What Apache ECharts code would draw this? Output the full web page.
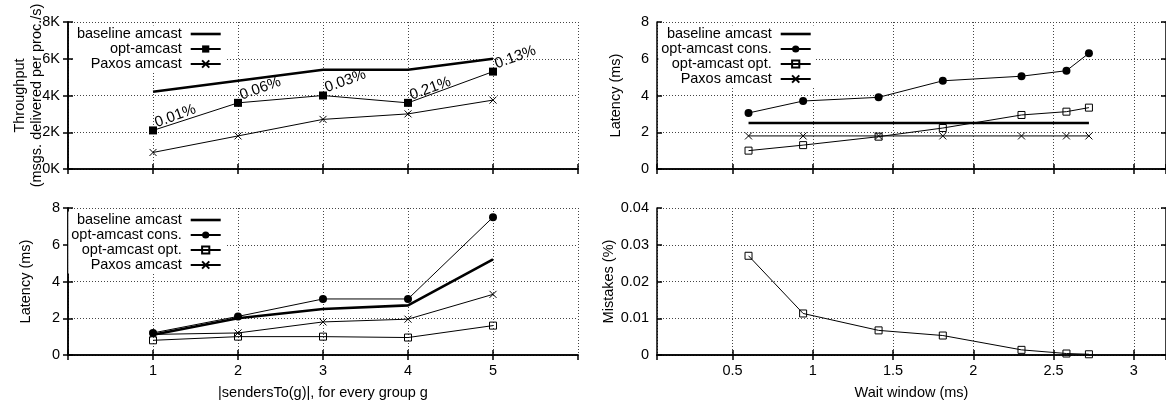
<!DOCTYPE html>
<html>
<head>
<meta charset="utf-8">
<script src="https://cdn.jsdelivr.net/npm/echarts@6/dist/echarts.min.js"></script>
<style>
  html, body { margin: 0; padding: 0; background: #fff; }
  #chart { width: 1166px; height: 407px; }
</style>
</head>
<body>
<div id="chart"></div>
<script>
// left column: |sendersTo(g)|
const senders = [1, 2, 3, 4, 5];
const tputBaseline = [4200, 4800, 5400, 5400, 6000];
const tputOpt = [2100, 3600, 4000, 3600, 5300];
const tputPaxos = [900, 1800, 2700, 3000, 3750];
const mistakeLabels = ['0.01%', '0.06%', '0.03%', '0.21%', '0.13%'];

const latBaseline = [1.1, 2.0, 2.5, 2.7, 5.2];
const latCons = [1.2, 2.1, 3.05, 3.05, 7.5];
const latOpt = [0.8, 1.0, 1.0, 0.95, 1.6];
const latPaxos = [1.12, 1.2, 1.8, 1.95, 3.3];

// right column: wait window (ms)
const waitWindow = [0.6, 0.94, 1.41, 1.81, 2.3, 2.58, 2.72];
const waitBaseline = [2.5, 2.5, 2.5, 2.5, 2.5, 2.5, 2.5];
const waitCons = [3.05, 3.7, 3.9, 4.8, 5.05, 5.35, 6.3];
const waitOpt = [1.0, 1.3, 1.76, 2.23, 2.94, 3.12, 3.34];
const waitPaxos = [1.8, 1.8, 1.8, 1.8, 1.8, 1.8, 1.8];
const waitMistakes = [0.027, 0.0113, 0.0067, 0.0053, 0.0014, 0.0004, 0.0002];

const FONT = 'Liberation Sans';
const FS = 14.5;
const chart = echarts.init(document.getElementById('chart'));

const grids = [
  { left: 68, top: 22, width: 510, height: 147 },
  { left: 657, top: 22, width: 516, height: 147 },
  { left: 68, top: 208, width: 510, height: 147 },
  { left: 657, top: 208, width: 516, height: 147 },
];

const sendersScale = { min: 0, max: 6, interval: 1 };
const waitScale = { min: 0.03, max: 3.2, splitNumber: 6 };

const textStyle = { fontFamily: FONT, fontSize: FS, color: '#000' };
const border = { lineStyle: { color: '#000', width: 1.5 } };
const ticks = { inside: true, length: 5, lineStyle: { color: '#000', width: 1.5 } };
const dotted = { show: true, lineStyle: { color: '#444', type: [1, 2], width: 1 } };

function xPair(gridIndex, scale, showLabels, name) {
  const bottom = {
    type: 'value', gridIndex, position: 'bottom', ...scale,
    name, nameLocation: 'middle', nameGap: 30, nameMoveOverlap: false, nameTextStyle: textStyle,
    axisLine: border, axisTick: ticks, splitLine: dotted,
    axisLabel: {
      show: showLabels, margin: 8, ...textStyle,
      showMinLabel: scale.min !== 0.03, showMaxLabel: false,
      formatter: (v) => (v === 0 || v === 6 ? '' : String(v)),
    },
  };
  const top = {
    type: 'value', gridIndex, position: 'top', ...scale,
    axisLine: border, axisTick: ticks, axisLabel: { show: false }, splitLine: { show: false },
  };
  return [bottom, top];
}

function yPair(gridIndex, scale, name, nameGap, formatter) {
  const left = {
    type: 'value', gridIndex, position: 'left', ...scale,
    name, nameLocation: 'middle', nameGap, nameRotate: 90, nameMoveOverlap: false,
    nameTextStyle: { ...textStyle, lineHeight: 17 },
    axisLine: border, axisTick: ticks, splitLine: dotted,
    axisLabel: { margin: 8, ...textStyle, formatter },
  };
  const right = {
    type: 'value', gridIndex, position: 'right', ...scale,
    axisLine: border, axisTick: ticks, axisLabel: { show: false }, splitLine: { show: false },
  };
  return [left, right];
}

const styles = {
  baseline: {
    symbol: 'none',
    itemStyle: { color: 'rgba(0,0,0,0)', borderWidth: 0 },
    lineStyle: { color: '#000', width: 2.6 },
  },
  filledSquare: { symbol: 'rect', symbolSize: 8, itemStyle: { color: '#000' }, lineStyle: { color: '#000', width: 1 } },
  filledCircle: { symbol: 'circle', symbolSize: 8, itemStyle: { color: '#000' }, lineStyle: { color: '#000', width: 1 } },
  emptySquare: {
    symbol: 'rect', symbolSize: 7,
    itemStyle: { color: 'rgba(0,0,0,0)', borderColor: '#000', borderWidth: 1 },
    lineStyle: { color: '#000', width: 1 },
  },
  cross: {
    symbol: 'path://M0,0L10,10M10,0L0,10', symbolSize: 7,
    itemStyle: { color: 'rgba(0,0,0,0)', borderColor: '#000', borderWidth: 1 },
    lineStyle: { color: '#000', width: 1 },
  },
};

function line(name, gridIndex, xs, ys, style, extra) {
  return {
    type: 'line', name,
    xAxisIndex: gridIndex * 2, yAxisIndex: gridIndex * 2,
    data: xs.map((x, i) => [x, ys[i]]),
    showAllSymbol: true, silent: true, emphasis: { disabled: true },
    ...style, ...extra,
  };
}

function legend(names, top, right) {
  return {
    data: names.map((n) => (n === 'baseline amcast'
      ? { name: n, lineStyle: { width: 2.6, color: '#000' } }
      : n)),
    orient: 'vertical', align: 'right', top, right,
    itemWidth: 30, itemHeight: 9, itemGap: 0,
    padding: [1, 3, 1, 3], backgroundColor: '#fff',
    selectedMode: false,
    textStyle: { ...textStyle, lineHeight: 15, padding: [0, 4, 0, 0] },
  };
}

const mistakeLabel = {
  label: {
    show: true, position: 'right', distance: 1, rotate: 20,
    align: 'left', verticalAlign: 'bottom',
    fontFamily: FONT, fontSize: 15, color: '#000',
    formatter: (p) => mistakeLabels[p.dataIndex],
  },
};

chart.setOption({
  animation: false,
  grid: grids,
  xAxis: [
    ...xPair(0, sendersScale, false),
    ...xPair(1, waitScale, false),
    ...xPair(2, sendersScale, true, '|sendersTo(g)|, for every group g'),
    ...xPair(3, waitScale, true, 'Wait window (ms)'),
  ],
  yAxis: [
    ...yPair(0, { min: 0, max: 8000, interval: 2000 }, 'Throughput\n(msgs. delivered per proc./s)', 23, (v) => v / 1000 + 'K'),
    ...yPair(1, { min: 0, max: 8, interval: 2 }, 'Latency (ms)', 33),
    ...yPair(2, { min: 0, max: 8, interval: 2 }, 'Latency (ms)', 34),
    ...yPair(3, { min: 0, max: 0.04, interval: 0.01 }, 'Mistakes (%)', 40),
  ],
  legend: [
    legend(['baseline amcast', 'opt-amcast', 'Paxos amcast'], 25.5, 941),
    legend(['baseline amcast', 'opt-amcast cons.', 'opt-amcast opt.', 'Paxos amcast'], 25.5, 351),
    legend(['baseline amcast', 'opt-amcast cons.', 'opt-amcast opt.', 'Paxos amcast'], 211.5, 941),
  ],
  series: [
    line('baseline amcast', 0, senders, tputBaseline, styles.baseline),
    line('opt-amcast', 0, senders, tputOpt, styles.filledSquare, mistakeLabel),
    line('Paxos amcast', 0, senders, tputPaxos, styles.cross),

    line('baseline amcast', 1, waitWindow, waitBaseline, styles.baseline),
    line('opt-amcast cons.', 1, waitWindow, waitCons, styles.filledCircle),
    line('opt-amcast opt.', 1, waitWindow, waitOpt, styles.emptySquare),
    line('Paxos amcast', 1, waitWindow, waitPaxos, styles.cross),

    line('baseline amcast', 2, senders, latBaseline, styles.baseline),
    line('opt-amcast cons.', 2, senders, latCons, styles.filledCircle),
    line('opt-amcast opt.', 2, senders, latOpt, styles.emptySquare),
    line('Paxos amcast', 2, senders, latPaxos, styles.cross),

    line('opt-amcast mistakes', 3, waitWindow, waitMistakes, styles.emptySquare),
  ],
});

window.addEventListener('resize', () => chart.resize());
</script>
</body>
</html>
